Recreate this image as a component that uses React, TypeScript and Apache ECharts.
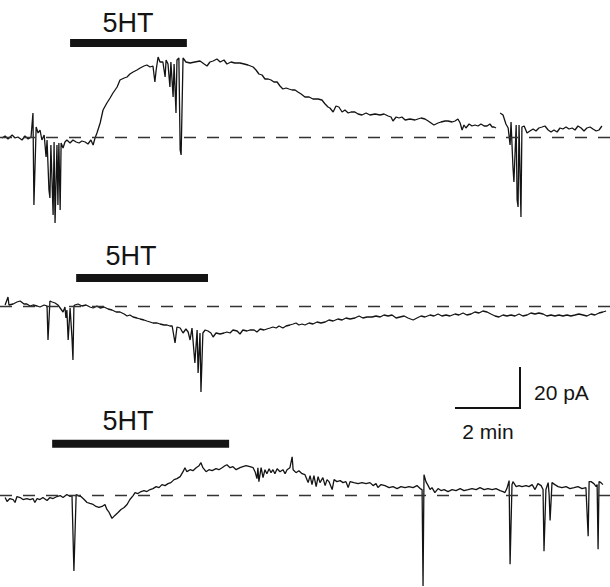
import React, { useEffect, useRef } from "react";
import * as echarts from "echarts";

// Time in minutes, current in pA (relative to the dashed baseline)
const trace1: (number | null)[][] = [
  [0.06, -0.5], [0.16, 0.5], [0.25, -1], [0.38, 1], [0.47, -0.5], [0.56, 0], [0.69, -1.5], [0.78, 0.5], [0.88, -1], [0.97, 0],
  [1.03, 12], [1.06, -34], [1.13, 5], [1.19, 2], [1.25, 3.5], [1.31, -1.5], [1.38, 1], [1.44, -10], [1.47, -1.5], [1.53, -26.5],
  [1.56, -30.5], [1.59, -4], [1.66, -39], [1.69, -2.5], [1.72, -43], [1.78, -4], [1.81, -34], [1.84, -3], [1.88, -36.5], [1.91, -3],
  [1.97, -5.5], [2.03, -2.5], [2.09, -1.5], [2.19, -3], [2.28, -1.5], [2.38, -2.5], [2.47, -3], [2.56, -2], [2.66, -2.5], [2.75, -3.5],
  [2.84, -1.5], [2.91, -4], [2.97, -0.5], [3.03, 2], [3.13, 7], [3.22, 13.5], [3.34, 17], [3.44, 19.5], [3.53, 22], [3.66, 25],
  [3.75, 28.5], [3.88, 29.5], [3.97, 30], [4.06, 31.5], [4.16, 32.5], [4.28, 33.5], [4.38, 34.5], [4.5, 35.5], [4.59, 36], [4.69, 35],
  [4.78, 35.5], [4.84, 27.5], [4.88, 33.5], [4.94, 40], [5.0, 37.5], [5.09, 37.5], [5.16, 30], [5.19, 38.5], [5.25, 36.5], [5.31, 25],
  [5.34, 37.5], [5.41, 20], [5.44, 36.5], [5.5, 12], [5.53, 38.5], [5.59, 39.5], [5.63, -6.5], [5.66, -9], [5.72, 39.5], [5.81, 37.5],
  [5.94, 37], [6.09, 37.5], [6.25, 38], [6.38, 36.5], [6.47, 35.5], [6.56, 37.5], [6.66, 38], [6.78, 39], [6.88, 37.5], [7.0, 38.5],
  [7.09, 36.5], [7.22, 37.5], [7.34, 37], [7.5, 37], [7.63, 36.5], [7.75, 36], [7.91, 35], [8.0, 33.5], [8.09, 31.5], [8.19, 31],
  [8.28, 29], [8.38, 29], [8.47, 28.5], [8.56, 27.5], [8.66, 27.5], [8.75, 25.5], [8.84, 24], [8.94, 24.5], [9.03, 24], [9.13, 23.5],
  [9.22, 23.5], [9.31, 22.5], [9.41, 21.5], [9.53, 20], [9.66, 20], [9.78, 19], [9.94, 19], [10.06, 18.5], [10.16, 16.5], [10.25, 15],
  [10.31, 14.5], [10.41, 12.5], [10.5, 15.5], [10.59, 15], [10.69, 12.5], [10.78, 13.5], [10.88, 12], [10.97, 12.5], [11.09, 12.5], [11.19, 11.5],
  [11.31, 11], [11.44, 12], [11.56, 11], [11.72, 11.5], [11.88, 11], [12.0, 11.5], [12.13, 10.5], [12.22, 10], [12.28, 8], [12.38, 10],
  [12.47, 9.5], [12.56, 10], [12.66, 8.5], [12.81, 9], [12.97, 8.5], [13.06, 9], [13.16, 9.5], [13.28, 9], [13.38, 8], [13.47, 7],
  [13.56, 6], [13.69, 7], [13.78, 7.5], [13.91, 8], [14.0, 8], [14.13, 7.5], [14.22, 8], [14.31, 9], [14.38, 7], [14.44, 3.5],
  [14.5, 6], [14.56, 4.5], [14.66, 6.5], [14.75, 5.5], [14.84, 6], [14.94, 5.5], [15.03, 6.5], [15.13, 5.5], [15.22, 5.5], [15.31, 6.5],
  [15.38, 5], [15.44, 5], [15.5, 4.5], [15.56, null],
  [15.63, 12], [15.72, 11], [15.81, 6.5], [15.88, 4.5], [15.94, -4], [15.97, 7.5], [16.03, -15], [16.06, -22.5], [16.13, 6], [16.16, -31.5],
  [16.19, -35], [16.22, 6], [16.28, -40], [16.31, 5], [16.38, 5.5], [16.47, 2], [16.56, 3], [16.66, 4], [16.75, 3], [16.84, 4.5],
  [16.94, 5], [17.03, 5.5], [17.13, 3.5], [17.22, 2.5], [17.31, 3.5], [17.41, 2.5], [17.5, 4.5], [17.59, 4], [17.69, 5], [17.78, 4],
  [17.88, 4.5], [17.97, 3.5], [18.06, 5.5], [18.16, 4.5], [18.25, 3], [18.34, 4.5], [18.44, 5], [18.53, 4], [18.63, 3], [18.72, 3.5],
  [18.81, 5.5],
];

const trace2: number[][] = [
  [0.16, 0.5], [0.25, 4.5], [0.28, 0.5], [0.41, 1], [0.53, 2], [0.63, 2.5], [0.75, 1], [0.84, 1], [0.94, 0], [1.03, 0.5],
  [1.16, 0], [1.25, -0.5], [1.38, 0.5], [1.47, 0], [1.5, -17], [1.56, 2.5], [1.63, 2], [1.72, 1.5], [1.81, 0.5], [1.88, -1],
  [1.97, -3], [2.03, -0.5], [2.06, -6], [2.09, -2], [2.13, -17], [2.19, -1], [2.25, -16], [2.28, -27], [2.31, 0], [2.34, 0.5],
  [2.44, 1], [2.56, 0], [2.69, 0.5], [2.81, -0.5], [2.91, -1], [3.03, 0], [3.13, -1], [3.25, -0.5], [3.38, -1.5], [3.5, -2],
  [3.63, -3], [3.75, -3], [3.88, -4], [3.97, -5], [4.06, -4.5], [4.16, -5.5], [4.28, -6], [4.38, -6.5], [4.5, -7], [4.59, -7.5],
  [4.69, -8], [4.78, -8.5], [4.91, -8.5], [5.0, -9], [5.13, -9.5], [5.22, -9.5], [5.31, -10], [5.38, -10], [5.47, -18.5], [5.53, -10.5],
  [5.63, -11], [5.72, -13.5], [5.81, -11.5], [5.88, -13], [5.94, -17], [6.0, -11], [6.09, -28.5], [6.16, -12], [6.19, -33.5], [6.25, -13.5],
  [6.28, -43], [6.34, -13.5], [6.41, -12], [6.5, -12.5], [6.59, -13.5], [6.66, -15.5], [6.75, -13.5], [6.88, -14], [7.0, -13.5], [7.09, -13],
  [7.19, -13.5], [7.28, -12], [7.41, -12.5], [7.5, -14], [7.59, -12], [7.72, -12.5], [7.81, -12], [7.94, -12], [8.03, -13], [8.13, -11.5],
  [8.25, -12], [8.34, -11.5], [8.44, -11], [8.53, -10.5], [8.63, -11], [8.72, -10], [8.84, -11], [8.94, -10], [9.06, -9.5], [9.16, -9],
  [9.25, -8.5], [9.34, -9.5], [9.44, -9], [9.53, -9.5], [9.66, -8.5], [9.78, -9], [9.91, -8], [10.03, -8.5], [10.16, -8], [10.28, -7],
  [10.41, -7.5], [10.56, -6.5], [10.69, -7], [10.81, -6], [10.94, -6.5], [11.09, -6], [11.22, -5], [11.34, -6], [11.47, -5.5], [11.63, -5.5],
  [11.75, -5], [11.88, -5.5], [12.0, -4.5], [12.13, -5], [12.25, -4.5], [12.38, -6], [12.5, -5.5], [12.63, -5], [12.75, -6], [12.91, -7],
  [13.03, -6], [13.16, -5], [13.28, -5.5], [13.44, -4.5], [13.56, -5], [13.69, -4], [13.81, -5], [13.94, -4.5], [14.06, -5], [14.22, -4],
  [14.34, -4.5], [14.47, -3.5], [14.59, -4.5], [14.72, -4], [14.84, -3], [14.97, -3.5], [15.09, -2.5], [15.22, -3], [15.34, -4], [15.47, -5],
  [15.59, -5.5], [15.72, -4.5], [15.84, -5], [15.97, -4.5], [16.09, -5], [16.22, -4], [16.34, -5], [16.47, -4.5], [16.59, -3.5], [16.72, -4],
  [16.84, -3.5], [16.97, -4], [17.09, -5], [17.22, -4.5], [17.34, -5], [17.47, -4.5], [17.59, -5], [17.72, -4.5], [17.84, -5], [17.97, -4.5],
  [18.09, -4], [18.22, -4.5], [18.34, -5], [18.47, -4], [18.59, -4.5], [18.72, -3.5], [18.84, -3], [18.94, -2.5],
];

const trace3: number[][] = [
  [0.16, -1], [0.22, -3], [0.31, -1.5], [0.41, -2], [0.47, -3.5], [0.53, -0.5], [0.63, -1], [0.72, -2], [0.84, -1.5], [0.94, -2],
  [1.03, -1.5], [1.09, -3.5], [1.16, -1.5], [1.25, -2], [1.34, -1], [1.47, -2.5], [1.56, -1], [1.66, -1.5], [1.78, -0.5], [1.88, 0],
  [1.97, -1], [2.09, 0.5], [2.19, -0.5], [2.25, 0], [2.31, -38], [2.38, 0.5], [2.44, 0], [2.53, -0.5], [2.63, -2], [2.72, -3.5],
  [2.81, -4], [2.91, -4.5], [3.0, -5.5], [3.09, -6], [3.19, -5.5], [3.28, -4.5], [3.34, -7], [3.41, -8.5], [3.5, -11.5], [3.59, -10],
  [3.69, -8.5], [3.78, -7], [3.88, -6], [3.97, -4.5], [4.06, -2], [4.16, 0], [4.22, 1.5], [4.31, 1], [4.41, 2], [4.5, 2.5],
  [4.59, 2], [4.69, 3], [4.78, 3.5], [4.88, 4.5], [4.97, 4], [5.06, 5.5], [5.16, 5], [5.25, 6], [5.34, 6.5], [5.44, 8],
  [5.53, 8.5], [5.63, 9.5], [5.72, 12], [5.78, 14], [5.84, 12], [5.94, 13], [6.03, 12.5], [6.13, 14], [6.22, 15], [6.28, 16.5],
  [6.34, 14], [6.44, 12], [6.53, 13], [6.63, 12.5], [6.75, 13.5], [6.84, 13], [6.94, 14], [7.03, 15], [7.09, 15.5], [7.19, 14],
  [7.28, 14.5], [7.38, 13], [7.5, 14], [7.59, 14.5], [7.69, 15], [7.81, 14.5], [7.91, 14], [7.97, 12], [8.03, 8.5], [8.06, 14],
  [8.09, 7], [8.16, 14], [8.22, 9], [8.28, 13], [8.34, 11], [8.41, 13.5], [8.47, 11.5], [8.53, 13], [8.59, 11], [8.66, 13.5],
  [8.75, 12], [8.84, 13], [8.91, 11], [8.97, 13], [9.06, 14], [9.13, 19.5], [9.16, 13], [9.25, 11.5], [9.34, 12.5], [9.44, 11],
  [9.53, 10.5], [9.63, 6.5], [9.69, 10], [9.75, 5.5], [9.81, 10], [9.88, 4.5], [9.94, 9.5], [10.0, 6.5], [10.09, 9], [10.16, 5],
  [10.22, 8], [10.28, 7], [10.38, 3], [10.44, 8], [10.53, 7], [10.63, 7.5], [10.72, 6.5], [10.81, 7], [10.88, 4], [10.94, 7],
  [11.06, 6.5], [11.19, 6], [11.31, 6.5], [11.44, 6], [11.56, 6.5], [11.66, 5], [11.75, 6], [11.81, 4], [11.91, 5.5], [12.03, 5],
  [12.16, 4], [12.28, 4.5], [12.41, 3.5], [12.53, 4.5], [12.66, 4], [12.78, 4.5], [12.91, 4], [13.03, 5], [13.13, 3.5], [13.19, 3],
  [13.22, -45.5], [13.25, 10.5], [13.31, 7], [13.38, 5], [13.44, 3], [13.5, 4], [13.59, 1.5], [13.69, 3.5], [13.78, 2.5], [13.88, 3],
  [14.0, 2], [14.13, 3], [14.25, 2.5], [14.38, 3.5], [14.5, 2.5], [14.63, 3], [14.75, 3.5], [14.88, 3], [15.0, 4], [15.13, 3],
  [15.25, 3.5], [15.38, 3], [15.5, 3.5], [15.63, 2.5], [15.72, 2], [15.78, 1.5], [15.84, 3.5], [15.91, 7.5], [15.94, -34.5], [16.0, 5.5],
  [16.03, 7], [16.13, 4.5], [16.22, 5], [16.31, 4.5], [16.44, 5], [16.53, 4.5], [16.63, 5.5], [16.72, 3], [16.81, 6], [16.91, 5],
  [16.97, 3], [17.0, -28], [17.06, 3], [17.13, 6.5], [17.16, 0.5], [17.19, -12.5], [17.25, 6.5], [17.34, 5.5], [17.44, 4.5], [17.56, 4],
  [17.69, 4.5], [17.81, 3.5], [17.94, 4], [18.06, 4.5], [18.19, 3.5], [18.31, 4], [18.38, -20.5], [18.41, 7], [18.47, 7], [18.56, 6],
  [18.63, 4.5], [18.66, 5.5], [18.69, -27], [18.72, 7], [18.78, 6.5], [18.84, 5.5],
];

// 5HT application periods (start, end in min) and the bar's level (pA) above each trace
const drugStart = [2.19, 2.38, 1.63];
const drugEnd = [5.84, 6.5, 7.16];
const drugLevel = [47, 14, 26];
const drugLabel = "5HT";

// Scale bar: 2 min by 20 pA, anchored in the middle trace's axes
const scaleMin = 2;
const scalePA = 20;
const scaleOrigin = [14.25, -51];
const scaleLabels = ["20 pA", "2 min"];

export default function App() {
  const ref = useRef<HTMLDivElement>(null);
  useEffect(() => {
    if (!ref.current) return;
    const chart = echarts.init(ref.current, null, { renderer: "svg" });
    const traces = [trace1, trace2, trace3];
    const grids = [
      { left: 0, width: 610, top: 17, height: 240 },
      { left: 0, width: 610, top: 186, height: 240 },
      { left: 0, width: 610, top: 416, height: 172 },
    ];
    const yRanges = [
      [-60, 60],
      [-60, 60],
      [-46, 40],
    ];
    const ink = "#141414";
    const series: any[] = [];
    traces.forEach((d, i) => {
      series.push({
        type: "line",
        xAxisIndex: i,
        yAxisIndex: i,
        data: d,
        symbol: "none",
        showSymbol: false,
        connectNulls: false,
        lineStyle: { color: ink, width: 1.3 },
        silent: true,
        markLine: {
          silent: true,
          symbol: "none",
          label: { show: false },
          lineStyle: { color: "#333", width: 1.3, type: [12, 11] },
          data: [{ yAxis: 0 }],
        },
      });
      series.push({
        type: "line",
        xAxisIndex: i,
        yAxisIndex: i,
        data: [
          [drugStart[i], drugLevel[i]],
          [drugEnd[i], drugLevel[i]],
        ],
        symbol: "none",
        silent: true,
        lineStyle: { color: ink, width: 8, cap: "butt" },
      });
    });
    series.push({
      type: "line",
      xAxisIndex: 1,
      yAxisIndex: 1,
      data: [
        [scaleOrigin[0], scaleOrigin[1]],
        [scaleOrigin[0] + scaleMin, scaleOrigin[1]],
        [scaleOrigin[0] + scaleMin, scaleOrigin[1] + scalePA],
      ],
      symbol: "none",
      silent: true,
      lineStyle: { color: ink, width: 2, cap: "square", join: "miter" },
    });
    const font = "Liberation Sans, Arial, sans-serif";
    const labelPos = [
      [128, 23],
      [131, 256],
      [128, 421],
    ];
    const graphic: any[] = labelPos.map((p) => ({
      type: "text",
      x: p[0],
      y: p[1],
      style: {
        text: drugLabel,
        fill: ink,
        font: `27px ${font}`,
        textAlign: "center",
        textVerticalAlign: "middle",
      },
    }));
    graphic.push({
      type: "text",
      x: 534,
      y: 392,
      style: { text: scaleLabels[0], fill: ink, font: `21px ${font}`, textAlign: "left", textVerticalAlign: "middle" },
    });
    graphic.push({
      type: "text",
      x: 488,
      y: 431,
      style: { text: scaleLabels[1], fill: ink, font: `21px ${font}`, textAlign: "center", textVerticalAlign: "middle" },
    });
    chart.setOption({
      animation: false,
      backgroundColor: "#ffffff",
      grid: grids,
      xAxis: grids.map((_, i) => ({ type: "value", gridIndex: i, min: 0, max: 19.0625, show: false })),
      yAxis: grids.map((_, i) => ({ type: "value", gridIndex: i, min: yRanges[i][0], max: yRanges[i][1], show: false })),
      series,
      graphic,
    });
    return () => chart.dispose();
  }, []);
  return <div ref={ref} style={{ position: "fixed", left: 0, top: 0, width: 610, height: 587 }} />;
}
